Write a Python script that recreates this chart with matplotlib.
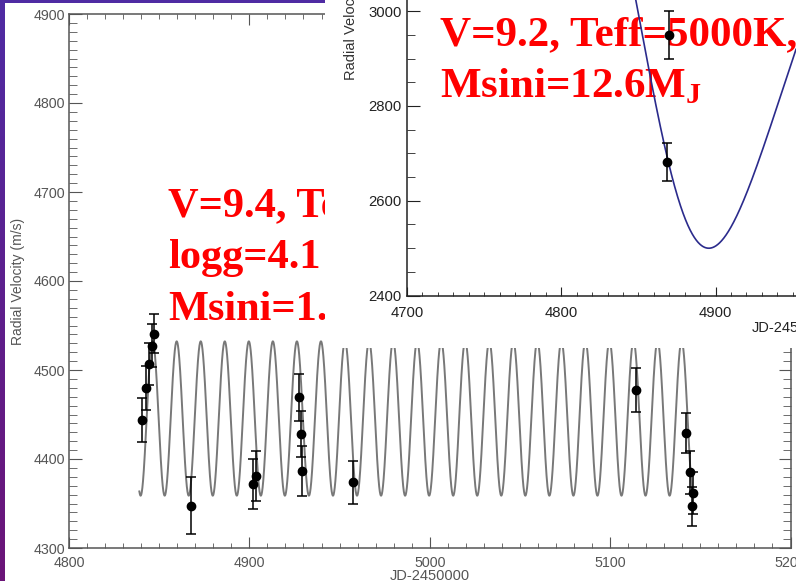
import numpy as np
import matplotlib.pyplot as plt
from matplotlib.patches import Rectangle
from matplotlib.ticker import MultipleLocator

plt.rcParams['font.family'] = ['Liberation Sans', 'DejaVu Sans']
plt.rcParams['mathtext.fontset'] = 'custom'
plt.rcParams['mathtext.rm'] = 'Liberation Serif:bold'
plt.rcParams['mathtext.bf'] = 'Liberation Serif:bold'

W, H = 796, 581

# grande grafica: velocidades radiales (JD-2450000, m/s)
jd_main = [4840.6, 4842.5, 4844.4, 4845.8, 4847.3, 4867.5, 4902.2, 4903.7, 4927.5,
           4928.5, 4929.3, 4957.6, 5114.2, 5141.9, 5144.3, 5146.1, 5145.6]
rv_main = [4443.8, 4479.8, 4506.7, 4527.3, 4541.0, 4347.5, 4371.9, 4381.2, 4469.2,
           4428.1, 4386.9, 4373.7, 4477.5, 4429.2, 4384.9, 4361.8, 4346.7]
err_main = [25, 25, 24, 24, 22, 32, 28, 28, 26, 26, 28, 24, 25, 22, 24, 24, 22]

# ajuste orbital de la grafica grande
p_main = 13.33
k_main = 86.7
v0_main = 4445.5
tpeak_main = 4859.7
t_main = (4839, 5147)

# grafica pequena
jd_ins = [4868.8, 4870.0]
rv_ins = [2681, 2949.6]
err_ins = [40, 50]

# orbita kepleriana de la grafica pequena
p_ins, e_ins, w_ins, tp_ins, k_ins, v0_ins = 425.0, 0.3, 145.6, 4874.2, 700.0, 3373.0
t_ins = (4700, 4960)

main_text = ['V=9.4, Teff', 'logg=4.1', 'Msini=1.']
ins_text = ['V=9.2, Teff=5000K,', r'Msini=12.6M$_\mathbf{J}$']


def rect(x0, y0, x1, y1):
    # pixeles (origen arriba a la izquierda) -> coordenadas de figura
    return [x0 / W, 1 - y1 / H, (x1 - x0) / W, (y1 - y0) / H]


def kepler_rv(t, P, e, w, tp, K, v0):
    M = 2 * np.pi * (t - tp) / P
    E = M.copy()
    for _ in range(60):
        E = E - (E - e * np.sin(E) - M) / (1 - e * np.cos(E))
    nu = 2 * np.arctan2(np.sqrt(1 + e) * np.sin(E / 2), np.sqrt(1 - e) * np.cos(E / 2))
    w = np.radians(w)
    return v0 + K * (np.cos(nu + w) + e * np.cos(w))


fig = plt.figure(figsize=(W / 100, H / 100), dpi=100)

# fondo morado de la diapositiva
bg = fig.add_axes([0, 0, 1, 1])
bg.set_zorder(-3)
top_c = np.array([0.31, 0.17, 0.64])
bot_c = np.array([0.42, 0.08, 0.47])
grad = np.linspace(0, 1, 256)[:, None, None] * (bot_c - top_c) + top_c
bg.imshow(np.repeat(grad, 2, axis=1), aspect='auto', extent=[0, 1, 0, 1])
bg.axis('off')

fig.add_artist(Rectangle((5 / W, 0), 1, 1 - 3 / H, transform=fig.transFigure,
                         facecolor='white', edgecolor='none', zorder=-2))

# ---- grafica grande ----
ax = fig.add_axes(rect(69, 14, 790.5, 548))
ax.set_xlim(4800, 5200)
ax.set_ylim(4300, 4900)
t = np.linspace(t_main[0], t_main[1], 5000)
ax.plot(t, v0_main + k_main * np.cos(2 * np.pi * (t - tpeak_main) / p_main),
        color='#787878', lw=1.4)
ax.errorbar(jd_main, rv_main, yerr=err_main, fmt='o', color='black', ms=6,
            elinewidth=1.1, capsize=3.3, capthick=1.1)
ax.xaxis.set_major_locator(MultipleLocator(100))
ax.xaxis.set_minor_locator(MultipleLocator(10))
ax.yaxis.set_major_locator(MultipleLocator(100))
ax.yaxis.set_minor_locator(MultipleLocator(10))
ax.tick_params(which='both', direction='in', top=True, right=True,
               colors='#555555', labelsize=10.3)
ax.tick_params(axis='x', which='major', length=8, pad=5.5)
ax.tick_params(axis='x', which='minor', length=3.6)
ax.tick_params(axis='y', which='major', length=9, pad=3)
ax.tick_params(axis='y', which='minor', length=5.5)
for s in ax.spines.values():
    s.set_color('#555555')
    s.set_linewidth(1.1)
for s, yb in zip(main_text, [216.7, 268, 320]):
    ax.text(168 / W, 1 - yb / H, s, transform=fig.transFigure, fontsize=30.5,
            family='Liberation Serif', weight='bold', color='red', va='baseline')
fig.text(18 / W, 1 - 281 / H, 'Radial Velocity (m/s)', rotation=90, ha='center',
         va='center', fontsize=10, color='#555555')
fig.text(430 / W, 1 - 576 / H, 'JD-2450000', ha='center', va='center',
         fontsize=10.5, color='#555555')

# ---- grafica pequena ----
fig.add_artist(Rectangle((325 / W, 1 - 348 / H), 1, 348 / H, transform=fig.transFigure,
                         facecolor='white', edgecolor='none', zorder=1))
ins = fig.add_axes(rect(407, 0, 796, 295.5))
ins.set_zorder(2)
ins.patch.set_visible(False)
ins.set_xlim(4700, 4700 + 389 / 1.5425)
ins.set_ylim(2400, 2400 + 295.5 / 0.474)
ti = np.linspace(t_ins[0], t_ins[1], 2000)
ins.plot(ti, kepler_rv(ti, p_ins, e_ins, w_ins, tp_ins, k_ins, v0_ins),
         color='#2b2b8c', lw=1.2)
ins.errorbar(jd_ins, rv_ins, yerr=err_ins, fmt='o', color='black', ms=6,
             elinewidth=1.1, capsize=3.3, capthick=1.1)
ins.xaxis.set_major_locator(MultipleLocator(100))
ins.xaxis.set_minor_locator(MultipleLocator(10))
ins.yaxis.set_major_locator(MultipleLocator(200))
ins.yaxis.set_minor_locator(MultipleLocator(50))
ins.tick_params(which='both', direction='in', colors='#222222', labelsize=10.7)
ins.tick_params(axis='x', which='major', length=6.5, pad=7.5)
ins.tick_params(axis='x', which='minor', length=3)
ins.tick_params(axis='y', which='major', length=9.5, pad=3.8)
ins.tick_params(axis='y', which='minor', length=5.8)
ins.spines['top'].set_visible(False)
ins.spines['right'].set_visible(False)
for k in ['left', 'bottom']:
    ins.spines[k].set_color('#222222')
    ins.spines[k].set_linewidth(1.1)
for s, yb in zip(ins_text, [45, 96.7]):
    ins.text(440 / W, 1 - yb / H, s, transform=fig.transFigure, fontsize=31,
             family='Liberation Serif', weight='bold', color='red', va='baseline',
             zorder=1)
fig.text(351 / W, 1 - 80 / H, 'Radial Velocity (m/s)', rotation=90,
         rotation_mode='anchor', ha='left', va='center', fontsize=10.5,
         color='#333333', zorder=3)
fig.text(752 / W, 1 - 328 / H, 'JD-2450000', ha='left', va='center',
         fontsize=10.5, color='#222222', zorder=3)

fig.savefig('out.png', dpi=100)
